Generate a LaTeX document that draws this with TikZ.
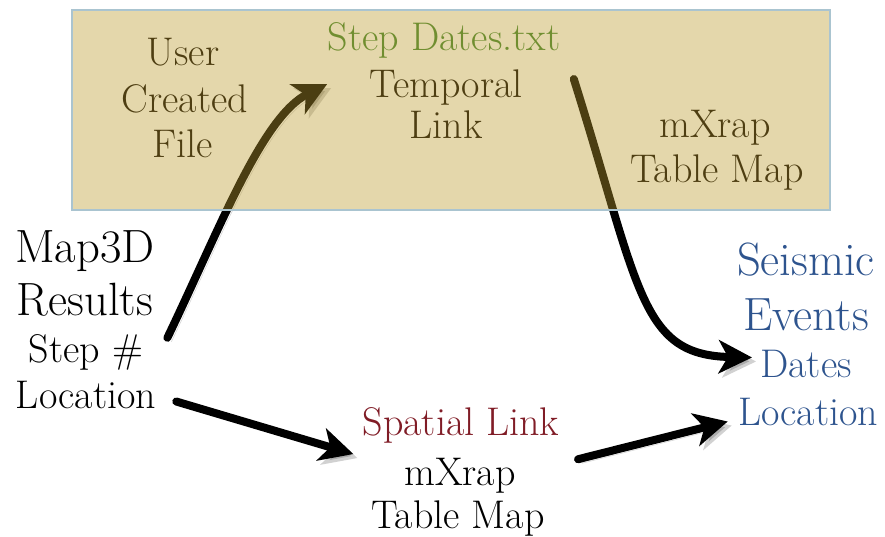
\documentclass[tikz,border=0pt]{standalone}
\usepackage{fontspec}
\usetikzlibrary{arrows.meta,calc}

\definecolor{filetan}{RGB}{188,155,46}
\definecolor{fileedge}{RGB}{170,196,208}
\definecolor{filetext}{RGB}{78,62,18}
\definecolor{stepgreen}{RGB}{112,142,48}
\definecolor{spatialred}{RGB}{128,28,38}
\definecolor{eventblue}{RGB}{46,84,142}

\pgfdeclarelayer{back}
\pgfsetlayers{back,main}

\begin{document}
\begin{tikzpicture}[x=0.75pt,y=-0.75pt]

    \tikzset{
      word/.style={
        inner sep=0pt,
        anchor=base,
        font=\fontsize{30}{36}\selectfont,
      },
      bigword/.style={
        word,
        font=\fontsize{35}{42}\selectfont,
      },
      flow/.style={
        line width=6pt,
        line cap=round,
        -{Stealth[length=25pt,width=25pt,inset=7pt]},
        preaction={draw=black, opacity=0.18, transform canvas={shift={(3pt,-3pt)}}},
      },
      filebox/.style={
        fill=filetan,
        fill opacity=0.4,
        draw=fileedge,
        line width=1pt,
      },
    }
    \useasboundingbox (0,0) rectangle (885,536);

    % Map3D output
    \node[bigword] (map3d) at (85,262) {Map3D};
    \node[bigword] (results) at (85,315) {Results};
    \node[word] (stepno) at (86,362) {Step \#};
    \node[word] (location) at (86,408) {Location};

    % user created file
    \node[word, filetext] (user) at (183,65) {User};
    \node[word, filetext] (created) at (185,112) {Created};
    \node[word, filetext] (file) at (183,157) {File};
    \node[word, stepgreen] (stepdates) at (444,50) {Step Dates.txt};
    \node[word, filetext] (temporal) at (446,97) {Temporal};
    \node[word, filetext] (link) at (446,138) {Link};
    \node[word, filetext] (mxtop) at (715,137) {mXrap};
    \node[word, filetext] (tabletop) at (717,182) {Table Map};

    % seismic events
    \node[bigword, eventblue] (seismic) at (806,275) {Seismic};
    \node[bigword, eventblue] (events) at (806,330) {Events};
    \node[word, eventblue] (dates) at (806,377) {Dates};
    \node[word, eventblue] (evloc) at (808,425) {Location};

    % spatial link
    \node[word, spatialred] (spatial) at (461,435) {Spatial Link};
    \node[word] (mxbot) at (460,485) {mXrap};
    \node[word] (tablebot) at (458,528) {Table Map};

    \begin{pgfonlayer}{back}
    \draw[flow] ($(stepno.north east)+(24,4)$) .. controls (220,228) and (262,117) .. ($(temporal.west)+(-42,-3)$);
    \draw[flow] ($(temporal.east)+(51,-8)$) .. controls (640,290) and (640,355) .. ($(dates.west)+(-8,-6)$);
    \draw[flow] ($(location.east)+(20,7)$) -- ($(spatial.south west)+(-9,11)$);
    \draw[flow] ($(mxbot.east)+(62,-16)$) -- ($(evloc.west)+(-10,10)$);
    \draw[filebox] (72,10) rectangle (830,210);
    \end{pgfonlayer}

\end{tikzpicture}
\end{document}
